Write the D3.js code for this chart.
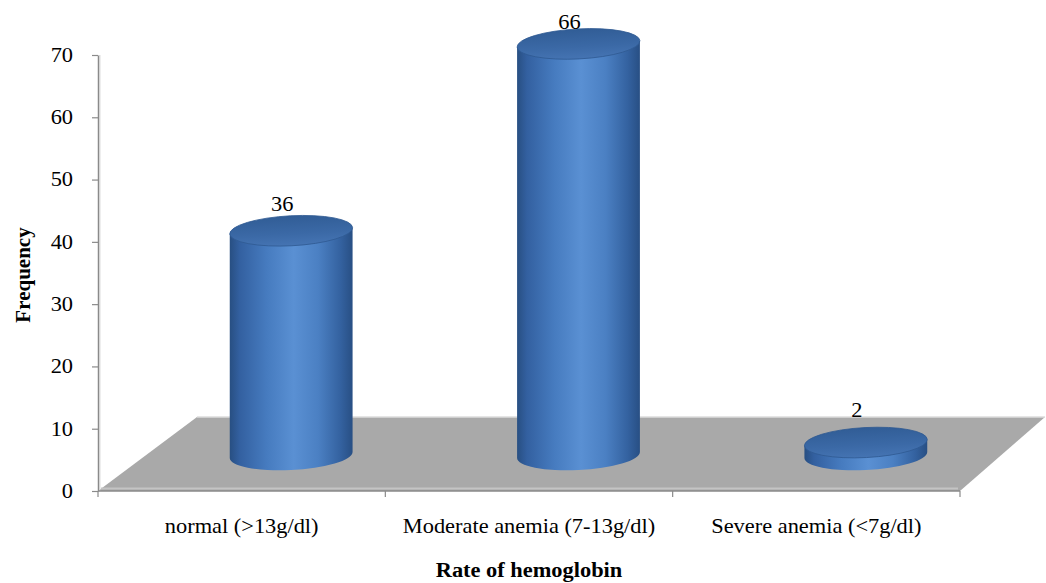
<!DOCTYPE html>
<html>
<head>
<meta charset="utf-8">
<script src="https://cdn.jsdelivr.net/npm/d3@7"></script>
<style>
  body { margin: 0; background: #fff; }
  svg { display: block; }
  text { font-family: "Liberation Serif", "Times New Roman", serif; fill: #000; }
</style>
</head>
<body>
<svg id="chart" width="1046" height="583"></svg>
<script>
// ---- data ----
const categories = ["normal (>13g/dl)", "Moderate anemia (7-13g/dl)", "Severe anemia (<7g/dl)"];
const frequency = [36, 66, 2];
const yTickValues = [0, 10, 20, 30, 40, 50, 60, 70];
const xTitle = "Rate of hemoglobin";
const yTitle = "Frequency";

// ---- layout ----
const svg = d3.select("#chart");
const serif = "Liberation Serif, Times New Roman, serif";
const plot = { left: 98, right: 960, top: 55, bottom: 491 };
const floorBack = { y: 417, left: 197, right: 1045 };   // back edge of the 3-D floor
const midDepth = { dx: 49.5, dy: -36 };                  // cylinders stand in the middle of the floor
const stretch = 1.12;                                    // horizontal text stretch

const y = d3.scaleLinear().domain([0, 70]).range([plot.bottom, plot.top]);
const x = d3.scaleBand().domain(categories).range([plot.left, plot.right]).padding(0);
const labelY = d3.scaleLinear().domain([0, 70]).range([429, 5]);

// ---- gradients ----
const defs = svg.append("defs");
const bodyGrad = defs.append("linearGradient").attr("id", "cylBody")
  .attr("x1", "0%").attr("x2", "100%").attr("y1", "0%").attr("y2", "0%");
[["0%", "#284f82"], ["8%", "#3360a0"], ["30%", "#467bbf"], ["52%", "#5a90d3"],
 ["72%", "#4b80c3"], ["90%", "#3462a0"], ["100%", "#284f84"]]
  .forEach(([o, c]) => bodyGrad.append("stop").attr("offset", o).attr("stop-color", c));
const capGrad = defs.append("linearGradient").attr("id", "cylTop")
  .attr("x1", "0%").attr("x2", "0%").attr("y1", "0%").attr("y2", "100%");
[["0%", "#315d96"], ["60%", "#3b69a6"], ["100%", "#4574b3"]]
  .forEach(([o, c]) => capGrad.append("stop").attr("offset", o).attr("stop-color", c));

// ---- floor ----
const floorPts = [[plot.left, plot.bottom], [floorBack.left, floorBack.y],
                  [floorBack.right, floorBack.y], [plot.right, plot.bottom]];
svg.append("path")
  .attr("d", d3.line()(floorPts) + "Z")
  .attr("fill", "#a9a9a9");
svg.append("line")
  .attr("x1", floorBack.left).attr("x2", floorBack.right)
  .attr("y1", floorBack.y).attr("y2", floorBack.y)
  .attr("stroke", "#dcdcdc").attr("stroke-width", 1.5);
svg.append("line")
  .attr("x1", plot.left + 3).attr("x2", plot.right - 2)
  .attr("y1", plot.bottom - 2.5).attr("y2", plot.bottom - 2.5)
  .attr("stroke", "#c4c4c4").attr("stroke-width", 2);

// ---- y axis ----
const yAxis = svg.append("g")
  .attr("transform", `translate(${plot.left},0)`)
  .call(d3.axisLeft(y).tickValues(yTickValues).tickSize(6).tickSizeOuter(0).tickPadding(19));
yAxis.attr("font-family", serif);
yAxis.select(".domain").attr("stroke", "#8a8a8a").attr("stroke-width", 1.5);
yAxis.selectAll(".tick line").attr("stroke", "#8a8a8a").attr("stroke-width", 1.2);
yAxis.selectAll(".tick text")
  .attr("font-size", 20)
  .attr("font-family", serif)
  .attr("fill", "#000")
  .attr("x", -25 / stretch)
  .attr("transform", `scale(${stretch},1)`);
svg.append("line")
  .attr("x1", plot.left + 1.8).attr("x2", plot.left + 1.8)
  .attr("y1", plot.top).attr("y2", plot.bottom)
  .attr("stroke", "#d4d4d4").attr("stroke-width", 1.2);

// ---- x axis (ticks on the category boundaries) ----
const xAxis = svg.append("g");
xAxis.append("line")
  .attr("x1", plot.left).attr("x2", plot.right)
  .attr("y1", plot.bottom).attr("y2", plot.bottom)
  .attr("stroke", "#8a8a8a").attr("stroke-width", 1.5);
const bounds = categories.map(c => x(c)).concat([x.range()[1]]);
xAxis.selectAll("line.tk").data(bounds).join("line").attr("class", "tk")
  .attr("x1", d => d).attr("x2", d => d)
  .attr("y1", plot.bottom).attr("y2", plot.bottom + 6)
  .attr("stroke", "#8a8a8a").attr("stroke-width", 1.2);
xAxis.selectAll("text.cat").data(categories).join("text").attr("class", "cat")
  .attr("text-anchor", "middle")
  .attr("font-family", serif)
  .attr("font-size", 20)
  .attr("transform", d => `translate(${x(d) + x.bandwidth() / 2},533) scale(${stretch},1)`)
  .text(d => d);

// ---- cylinders ----
function cylinderBody(cx, yTop, yBot, a, b, thetaDeg) {
  const t = thetaDeg * Math.PI / 180;
  const w = Math.sqrt(a * a * Math.cos(t) ** 2 + b * b * Math.sin(t) ** 2);
  const dy = (a * a - b * b) * Math.sin(t) * Math.cos(t) / w;
  return `M${cx - w},${yTop - dy} L${cx - w},${yBot - dy} ` +
         `A${a},${b} ${thetaDeg} 0 0 ${cx + w},${yBot + dy} L${cx + w},${yTop + dy} Z`;
}
const rx = x.bandwidth() * 0.214, ry = 15, tilt = -3;
const bars = svg.append("g").selectAll("g").data(categories).join("g");
bars.each(function (c, i) {
  const g = d3.select(this);
  const cx = x(c) + x.bandwidth() / 2 + midDepth.dx;
  const yBot = y(0) + midDepth.dy;
  const yTop = y(frequency[i]) + midDepth.dy;
  g.append("path")
    .attr("d", cylinderBody(cx, yTop, yBot, rx, ry, tilt))
    .attr("fill", "url(#cylBody)");
  g.append("ellipse")
    .attr("cx", cx).attr("cy", yTop).attr("rx", rx).attr("ry", ry)
    .attr("transform", `rotate(${tilt},${cx},${yTop})`)
    .attr("fill", "url(#cylTop)")
    .attr("stroke", "#2f5a92").attr("stroke-width", 0.8);
  g.append("text")
    .attr("text-anchor", "middle")
    .attr("font-family", serif)
    .attr("font-size", 20)
    .attr("transform", `translate(${cx - 9},${labelY(frequency[i])}) scale(${stretch},1)`)
    .text(frequency[i]);
});

// ---- axis titles ----
svg.append("text")
  .attr("text-anchor", "middle")
  .attr("font-family", serif)
  .attr("font-size", 20).attr("font-weight", "bold")
  .attr("transform", `translate(${(plot.left + plot.right) / 2},577) scale(${stretch},1)`)
  .text(xTitle);
svg.append("text")
  .attr("text-anchor", "middle")
  .attr("font-family", serif)
  .attr("font-size", 21).attr("font-weight", "bold")
  .attr("transform", "translate(30,275) rotate(-90)")
  .text(yTitle);
</script>
</body>
</html>
